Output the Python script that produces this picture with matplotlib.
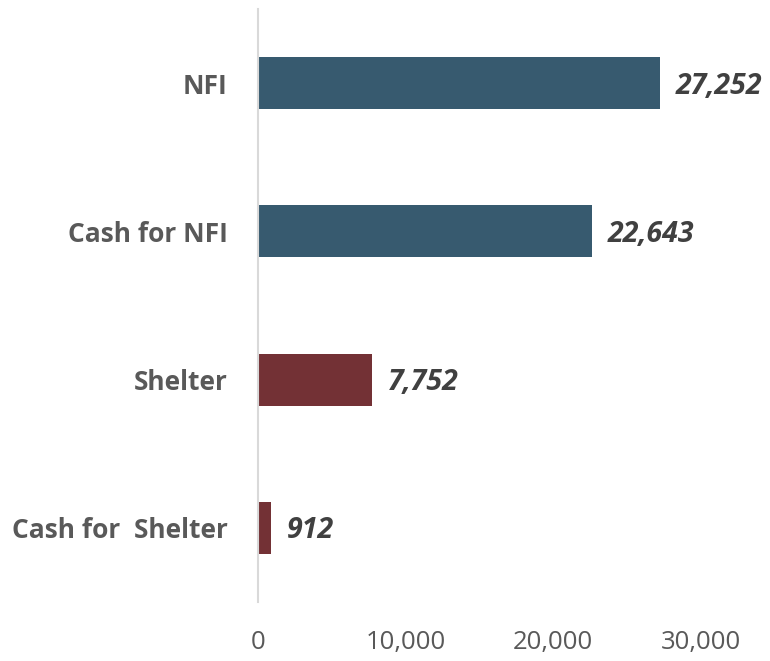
import matplotlib
matplotlib.use("Agg")
import matplotlib.pyplot as plt
from matplotlib.ticker import FuncFormatter

categories = ["NFI", "Cash for NFI", "Shelter", "Cash for  Shelter"]
values = [27252, 22643, 7752, 912]
colors = ["#375A6F", "#375A6F", "#733135", "#733135"]
xticks = [0, 10000, 20000, 30000]

plt.rcParams['font.family'] = ['Open Sans', 'DejaVu Sans']

fig = plt.figure(figsize=(7.7, 6.61), dpi=100)
ax = fig.add_axes([258/770, 1-602/661, (701-258)/770, (602-9)/661])

ypos = list(range(len(categories)))
ax.barh(ypos, values, height=0.35, color=colors)
ax.set_ylim(3.5, -0.5)
ax.set_xlim(0, 30000)

for y, v in zip(ypos, values):
    ax.annotate(f"{v:,}", xy=(v, y), xytext=(15, -3), textcoords="offset pixels",
                ha="left", va="center", fontsize=20.5, fontweight="bold",
                fontstyle="italic", color="#404040", annotation_clip=False)

ax.set_yticks(ypos)
ax.set_yticklabels(categories, fontsize=19, fontweight="bold", color="#595959")
ax.set_xticks(xticks)
ax.xaxis.set_major_formatter(FuncFormatter(lambda x, p: f"{int(x):,}"))
for lab in ax.get_xticklabels():
    lab.set_fontsize(18.5)
    lab.set_color("#595959")
ax.tick_params(axis="both", length=0)
ax.tick_params(axis="y", pad=22)
ax.tick_params(axis="x", pad=20)

for s in ["top", "right", "bottom"]:
    ax.spines[s].set_visible(False)
ax.spines["left"].set_color("#D9D9D9")
ax.spines["left"].set_linewidth(1.5)

fig.savefig("out.png", dpi=100)
